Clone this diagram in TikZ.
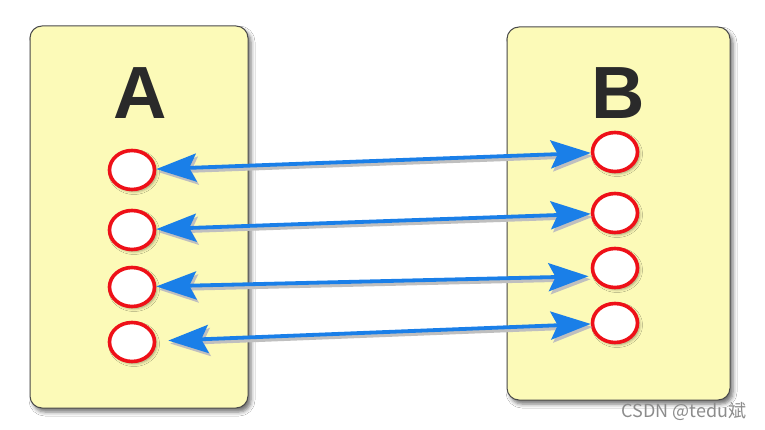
\documentclass[tikz,border=0pt]{standalone}
\usepackage{fontspec}
\setmainfont{Liberation Sans}
\newfontfamily\cjkfont{Noto Sans CJK SC}
\usetikzlibrary{
arrows.meta,
shapes.geometric,
shadows.blur
}
\definecolor{PanelYellow}{HTML}{FCFAB8}
\definecolor{PanelEdge}{HTML}{4A4A4A}
\definecolor{LinkBlue}{HTML}{1A7FE8}
\definecolor{PortRed}{HTML}{EE1018}
\definecolor{LetterGray}{HTML}{2A2A2A}

\begin{document}
\begin{tikzpicture}[x=1pt,y=-1pt,
    panel/.style={draw=PanelEdge, line width=1pt, fill=PanelYellow, rounded corners=12pt,
        blur shadow={shadow xshift=3pt, shadow yshift=-4pt, shadow blur radius=4pt, shadow opacity=55}},
    port/.style={ellipse, draw=PortRed, line width=3.6pt, fill=white, minimum width=45pt, minimum height=39pt, inner sep=0pt,
        blur shadow={shadow xshift=2pt, shadow yshift=-2pt, shadow blur radius=3pt, shadow opacity=40}},
    link/.style={line width=3.8pt, {Stealth[length=40pt,width=28pt,inset=7pt]}-{Stealth[length=40pt,width=28pt,inset=7pt]}},
    letter/.style={font=\bfseries\fontsize{74}{74}\selectfont, text=LetterGray, inner sep=0pt}]
    \useasboundingbox (0,0) rectangle (765,430);
    \fill[white] (0,0) rectangle (765,430);

    % the two hosts
    \node[panel, minimum width=218pt, minimum height=382pt] (hostA) at (139,217) {};
    \node[panel, minimum width=223pt, minimum height=373pt] (hostB) at (618.5,213.5) {};
    \node[letter] (labA) at (140,93) {A};
    \node[letter] (labB) at (618,93) {B};

    % ports
    \foreach \i/\y in {1/170,2/230,3/287,4/342}
        \node[port] (a\i) at (132,\y) {};
    \foreach \i/\y in {1/152,2/213,3/268,4/323}
        \node[port] (b\i) at (615,\y) {};

    % links (shadow first, then the blue line)
    \begin{scope}[transform canvas={shift={(2pt,-3pt)}}]
        \foreach \s/\t/\sa/\sb in {a1/b1/0/0, a2/b2/0/0, a3/b3.200/0/4, a4/b4/12/0}
            \draw[link, black!25, shorten <=\sa pt, shorten >=\sb pt] (\s) -- (\t);
    \end{scope}
    \foreach \s/\t/\sa/\sb in {a1/b1/0/0, a2/b2/0/0, a3/b3.200/0/4, a4/b4/12/0}
        \draw[link, LinkBlue, shorten <=\sa pt, shorten >=\sb pt] (\s) -- (\t);

    \node[font=\cjkfont\fontsize{18}{18}\selectfont, text=black!45] (mark) at (684,411) {CSDN @tedu斌};
\end{tikzpicture}
\end{document}
